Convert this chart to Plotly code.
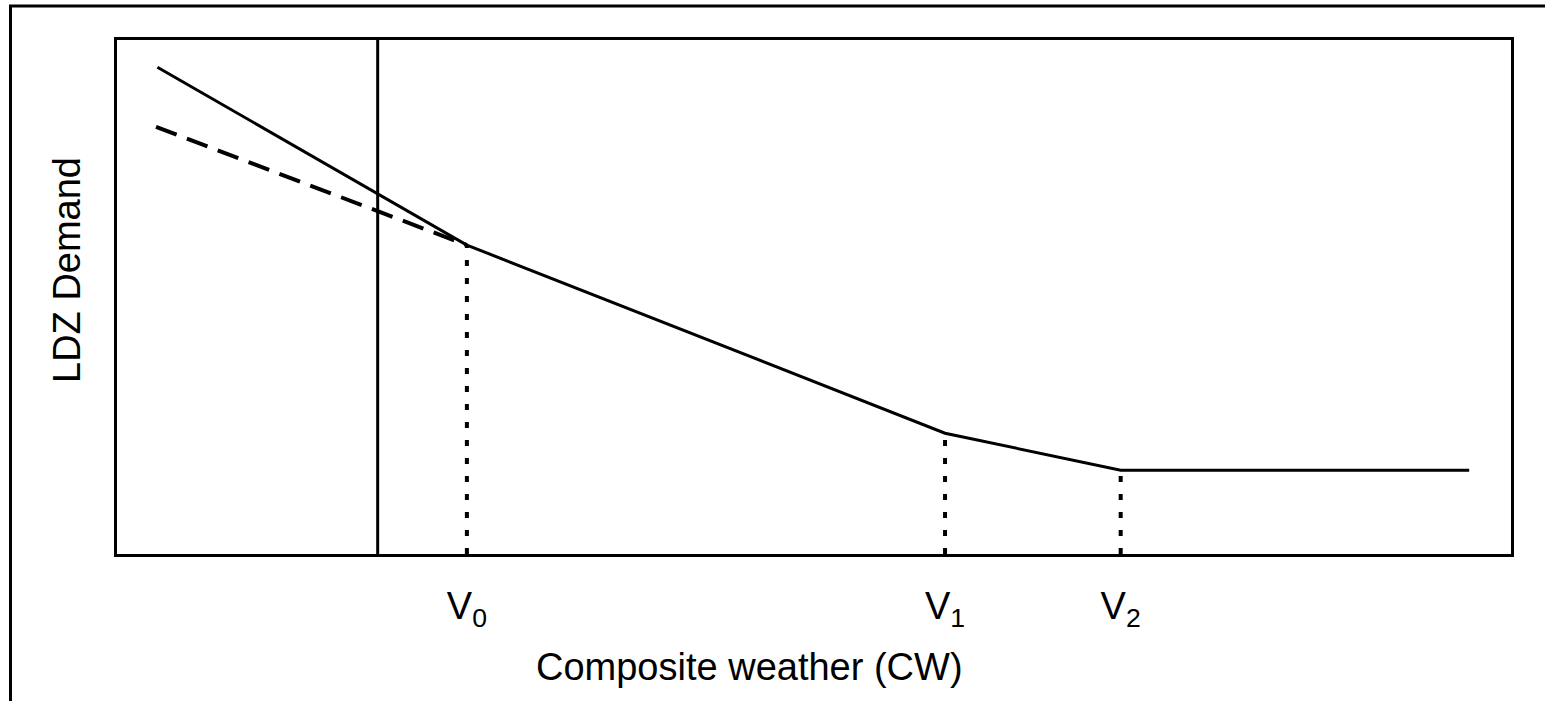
import plotly.graph_objects as go

# Piecewise-linear demand model against composite weather
cw_model = [2.9, 25.1, 59.4, 72.0, 97.0]
demand_model = [94.7, 60.1, 23.5, 16.3, 16.3]

# Alternative (dashed) extrapolation below V0
cw_alt = [2.8, 25.1]
demand_alt = [83.1, 60.1]

# Cut-off composite weather value (solid vertical line)
cw_cutoff = 18.7

# Breakpoints and their labels
breakpoints = [25.1, 59.4, 72.0]
breakpoint_demand = [60.1, 23.5, 16.3]
breakpoint_labels = ["V<sub>0</sub>", "V<sub>1</sub>", "V<sub>2</sub>"]

FONT = "Liberation Sans, Arial, sans-serif"

fig = go.Figure()

fig.add_trace(go.Scatter(
    x=cw_model, y=demand_model, mode="lines",
    line=dict(color="black", width=3), showlegend=False, hoverinfo="skip",
))
fig.add_trace(go.Scatter(
    x=cw_alt, y=demand_alt, mode="lines",
    line=dict(color="black", width=4, dash="22px,11px"), showlegend=False, hoverinfo="skip",
))
fig.add_trace(go.Scatter(
    x=[cw_cutoff, cw_cutoff], y=[0, 100], mode="lines",
    line=dict(color="black", width=3), showlegend=False, hoverinfo="skip",
))
for bx, by in zip(breakpoints, breakpoint_demand):
    fig.add_trace(go.Scatter(
        x=[bx, bx], y=[0, by], mode="lines",
        line=dict(color="black", width=4, dash="6px,12px"), showlegend=False, hoverinfo="skip",
    ))

fig.update_xaxes(
    range=[0, 100], showgrid=False, zeroline=False,
    showline=True, linecolor="black", linewidth=3, mirror=True,
    ticks="", tickvals=breakpoints, ticktext=breakpoint_labels,
    tickfont=dict(family=FONT, size=38, color="black"),
    ticklabelstandoff=16,
)
fig.update_yaxes(
    range=[0, 100], showgrid=False, zeroline=False,
    showline=True, linecolor="black", linewidth=3, mirror=True,
    ticks="", showticklabels=False,
)

# Axis titles
fig.add_annotation(
    text="Composite weather (CW)", xref="paper", yref="paper",
    x=0.454, y=-0.22, xanchor="center", yanchor="middle", showarrow=False,
    font=dict(family=FONT, size=38, color="black"),
)
fig.add_annotation(
    text="LDZ Demand", xref="paper", yref="paper", textangle=-90,
    x=-0.0359, y=0.5525, xanchor="center", yanchor="middle", showarrow=False,
    font=dict(family=FONT, size=38, color="black"),
)

# Outer frame (top and left edges)
fig.add_shape(
    type="path", xref="paper", yref="paper",
    path="M -0.0764,-0.4 L -0.0764,1.066 L 1.2,1.066",
    line=dict(color="black", width=3),
)

fig.update_layout(
    width=1545, height=701,
    margin=dict(l=117, r=34, t=40, b=147),
    plot_bgcolor="white", paper_bgcolor="white",
    showlegend=False,
)

fig.write_html("out.html")
